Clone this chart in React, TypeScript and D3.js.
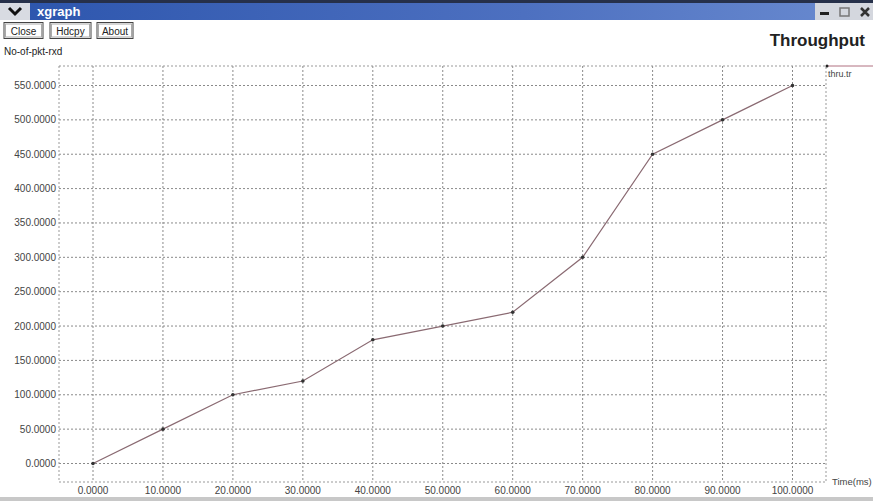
import React from "react";
import * as d3 from "d3";

const xValues = [0, 10, 20, 30, 40, 50, 60, 70, 80, 90, 100];
const yValues = [0, 50, 100, 120, 180, 200, 220, 300, 450, 500, 550];
const xTicks = [0, 10, 20, 30, 40, 50, 60, 70, 80, 90, 100];
const yTicks = [0, 50, 100, 150, 200, 250, 300, 350, 400, 450, 500, 550];
const buttons = ["Close", "Hdcpy", "About"];

const W = 873;
const H = 501;
const frame = { left: 59, right: 826, top: 66, bottom: 482 };

export default function App() {
  const x = d3.scaleLinear().domain([0, 100]).range([93, 792.5]);
  const y = d3.scaleLinear().domain([0, 550]).range([463.5, 85.5]);
  const line = d3
    .line<number>()
    .x((_, i) => x(xValues[i]))
    .y((d) => y(d));
  const font = "'Liberation Sans', Arial, sans-serif";
  const btnX = [4, 50, 97];
  const btnW = [39, 41, 36];
  return (
    <svg
      width={W}
      height={H}
      style={{ position: "absolute", left: 0, top: 0, background: "#fff" }}
      fontFamily={font}
    >
      <defs>
        <linearGradient id="tb" x1="0" x2="1" y1="0" y2="0">
          <stop offset="0" stopColor="#2c55ad" />
          <stop offset="0.6" stopColor="#4d70c0" />
          <stop offset="1" stopColor="#6a8bd0" />
        </linearGradient>
      </defs>
      <rect x={0} y={0} width={W} height={H} fill="#fff" />
      {/* title bar */}
      <rect x={0} y={0} width={W} height={20} fill="url(#tb)" />
      <rect x={0} y={0} width={W} height={3} fill="#26304a" />
      <rect x={0} y={3} width={30} height={17} fill="#d8dbe2" />
      <path d="M9,8 L15,14 L21,8" fill="none" stroke="#111" strokeWidth={3} />
      <text x={37} y={16} fill="#fff" fontSize={13} fontWeight="bold">
        xgraph
      </text>
      <rect x={815} y={3} width={58} height={17} fill="#d4d7de" />
      <rect x={820} y={12} width={9} height={3} fill="#222" />
      <rect x={840} y={8} width={9} height={8} fill="none" stroke="#777" strokeWidth={1.5} />
      <path d="M861,8 L869,16 M869,8 L861,16" stroke="#333" strokeWidth={2.5} />
      {/* buttons */}
      {buttons.map((b, i) => (
        <g key={b}>
          <rect x={btnX[i]} y={22.5} width={btnW[i]} height={16} fill="#fff" stroke="#444" />
          <rect x={btnX[i] + 1.5} y={24} width={btnW[i] - 3} height={13} fill="none" stroke="#aaa" />
          <text x={btnX[i] + btnW[i] / 2} y={34.5} fontSize={10} textAnchor="middle" fill="#222">
            {b}
          </text>
        </g>
      ))}
      <text x={4} y={55} fontSize={10} fill="#222">
        No-of-pkt-rxd
      </text>
      <text x={865} y={46} fontSize={17} fontWeight="bold" textAnchor="end" fill="#222">
        Throughput
      </text>
      {/* grid */}
      {yTicks.map((t) => (
        <line
          key={"h" + t}
          x1={frame.left}
          x2={frame.right}
          y1={y(t)}
          y2={y(t)}
          stroke="#8a8a8a"
          strokeDasharray="2,2"
          strokeWidth={1}
        />
      ))}
      {xTicks.map((t) => (
        <line
          key={"v" + t}
          x1={x(t)}
          x2={x(t)}
          y1={frame.top}
          y2={frame.bottom}
          stroke="#8a8a8a"
          strokeDasharray="2,2"
          strokeWidth={1}
        />
      ))}
      <rect
        x={frame.left}
        y={frame.top}
        width={frame.right - frame.left}
        height={frame.bottom - frame.top}
        fill="none"
        stroke="#999"
        strokeDasharray="2,2"
      />
      {/* tick labels */}
      {yTicks.map((t) => (
        <text key={"yl" + t} x={56} y={y(t) + 3.5} fontSize={10} textAnchor="end" fill="#444">
          {t.toFixed(4)}
        </text>
      ))}
      {xTicks.map((t) => (
        <text key={"xl" + t} x={x(t)} y={494} fontSize={10} textAnchor="middle" fill="#444">
          {t.toFixed(4)}
        </text>
      ))}
      <text x={832} y={485} fontSize={9.5} fill="#444">
        Time(ms)
      </text>
      {/* legend */}
      <line x1={826} x2={873} y1={66} y2={66} stroke="#b07080" strokeWidth={1} />
      <circle cx={827} cy={66} r={1.5} fill="#222" />
      <text x={828} y={77} fontSize={9} fill="#444">
        thru.tr
      </text>
      {/* data */}
      <path d={line(yValues) || ""} fill="none" stroke="#8a6a72" strokeWidth={1.2} />
      {yValues.map((v, i) => (
        <circle key={"p" + i} cx={x(xValues[i])} cy={y(v)} r={1.8} fill="#333" />
      ))}
      {/* bottom bar */}
      <rect x={0} y={497} width={W} height={4} fill="#c8c8c8" />
    </svg>
  );
}
